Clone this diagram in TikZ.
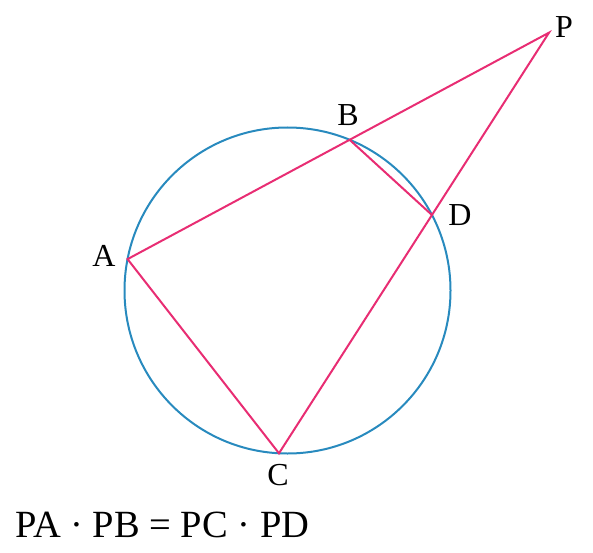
\documentclass[tikz,border=0pt]{standalone}
\usepackage{fontspec}
\setmainfont{Liberation Serif}
\definecolor{circblue}{RGB}{40,138,190}
\definecolor{linepink}{RGB}{232,45,115}
\begin{document}
\begin{tikzpicture}[x=1pt,y=1pt,
  circ/.style={draw=circblue,line width=2pt},
  seg/.style={draw=linepink,line width=2pt,line join=miter},
  lbl/.style={inner sep=0pt,font=\fontsize{32}{38}\selectfont},
  eqn/.style={inner sep=0pt,font=\fontsize{38.5}{44}\selectfont}]
\useasboundingbox (0,0) rectangle (593,552);
\coordinate (O) at (287.5,261.5);
\coordinate (A) at ([shift={(168.9:163pt)}]O);
\coordinate (B) at ([shift={(67.6:163pt)}]O);
\coordinate (D) at ([shift={(27.6:163pt)}]O);
\coordinate (C) at ([shift={(267:163pt)}]O);
\coordinate (P) at (intersection of A--B and C--D);
\draw[circ] (O) circle (163pt);
\draw[seg] (A) -- (P) -- (C) -- cycle;
\draw[seg] (B) -- (D);
\node[lbl] (lA) at (104,296) {A};
\node[lbl] (lB) at (348,437) {B};
\node[lbl] (lD) at (460,337) {D};
\node[lbl] (lC) at (278,77) {C};
\node[lbl] (lP) at (564,525) {P};
\node[eqn,anchor=base west] (eq) at (15,15) {PA · PB = PC · PD};
\end{tikzpicture}
\end{document}
